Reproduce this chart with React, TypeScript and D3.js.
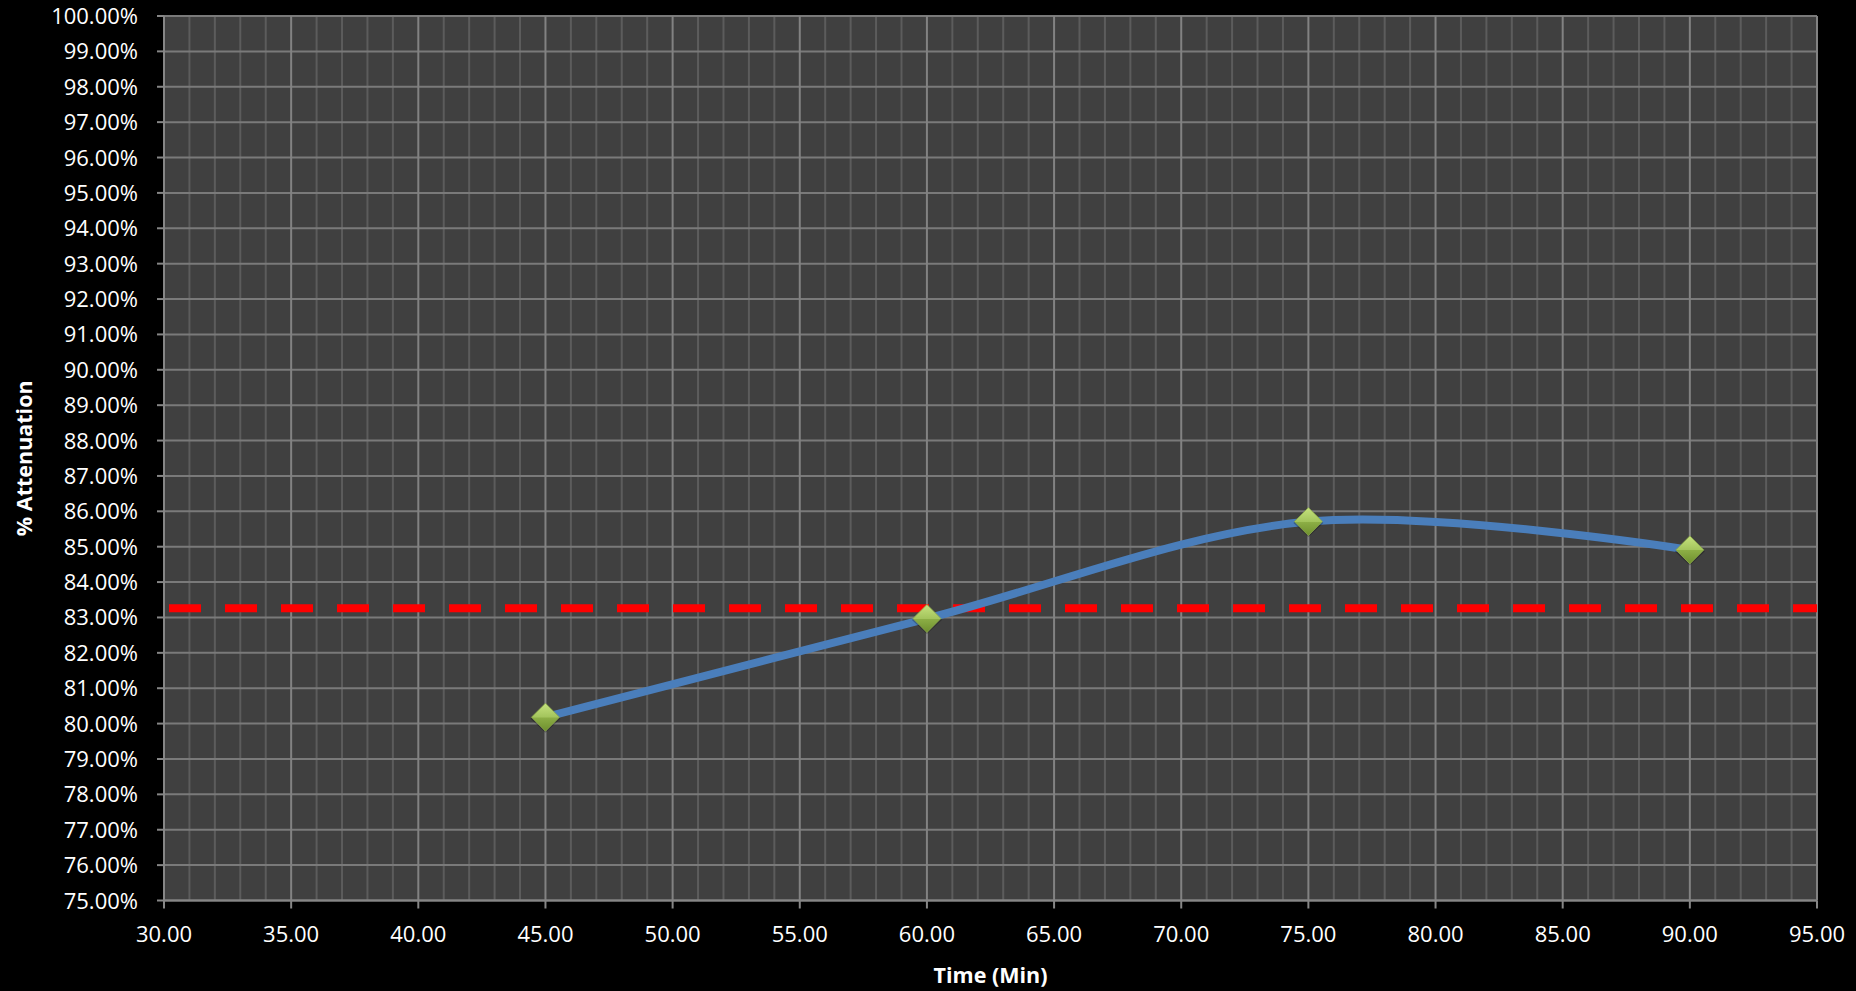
import React from "react";
import * as d3 from "d3";

const timeMin = [45, 60, 75, 90];
const attenuationPct = [80.18, 82.97, 85.71, 84.91];
const targetPct = 83.26;
const xTickValues = [30, 35, 40, 45, 50, 55, 60, 65, 70, 75, 80, 85, 90, 95];
const yTickValues = [75, 76, 77, 78, 79, 80, 81, 82, 83, 84, 85, 86, 87, 88, 89, 90, 91, 92, 93, 94, 95, 96, 97, 98, 99, 100];
const xTitle = "Time (Min)";
const yTitle = "% Attenuation";

const W = 1856;
const H = 991;
const L = 164, R = 1817, T = 16, B = 900.5;
const FONT = "'Open Sans', 'DejaVu Sans', sans-serif";

export default function App() {
  const x = d3.scaleLinear().domain([30, 95]).range([L, R]);
  const y = d3.scaleLinear().domain([75, 100]).range([B, T]);
  const minorX = d3.range(30, 96, 1);
  const pts: [number, number][] = timeMin.map((t, i) => [x(t), y(attenuationPct[i])]);
  const line = d3.line().curve(d3.curveCardinal.tension(0))(pts) || "";
  const ms = 14;
  return (
    <svg width={W} height={H} style={{ position: "absolute", left: 0, top: 0, display: "block" }} xmlns="http://www.w3.org/2000/svg">
      <defs>
        <clipPath id="plotclip">
          <rect x={L} y={T} width={R - L} height={B - T} />
        </clipPath>
        <linearGradient id="mk" x1="0" y1="0" x2="0" y2="1">
          <stop offset="0" stopColor="#c6e27e" />
          <stop offset="0.5" stopColor="#a3c45c" />
          <stop offset="0.52" stopColor="#8cae45" />
          <stop offset="1" stopColor="#6e8f2e" />
        </linearGradient>
      </defs>
      <rect x={0} y={0} width={W} height={H} fill="#000" />
      <rect x={L} y={T} width={R - L} height={B - T} fill="#404040" />
      {minorX.filter((v) => v % 5 !== 0).map((v) => (
        <line key={"mx" + v} x1={x(v)} x2={x(v)} y1={T} y2={B} stroke="#5c5c5c" strokeWidth={2} />
      ))}
      {yTickValues.map((v) => (
        <line key={"gy" + v} x1={L} x2={R} y1={y(v)} y2={y(v)} stroke="#7a7a7a" strokeWidth={2} />
      ))}
      {xTickValues.map((v) => (
        <line key={"gx" + v} x1={x(v)} x2={x(v)} y1={T} y2={B} stroke="#828282" strokeWidth={2} />
      ))}
      {/* axes */}
      <line x1={L} x2={L} y1={T} y2={B} stroke="#868686" strokeWidth={2} />
      <line x1={L} x2={R} y1={B} y2={B} stroke="#868686" strokeWidth={2} />
      {yTickValues.map((v) => (
        <line key={"ty" + v} x1={L - 7} x2={L} y1={y(v)} y2={y(v)} stroke="#868686" strokeWidth={2} />
      ))}
      {xTickValues.map((v) => (
        <line key={"tx" + v} x1={x(v)} x2={x(v)} y1={B} y2={B + 8} stroke="#868686" strokeWidth={2} />
      ))}
      {/* target dashed line */}
      <g clipPath="url(#plotclip)">
        <line x1={x(30)} x2={x(95)} y1={y(targetPct)} y2={y(targetPct)} stroke="#ff0000" strokeWidth={8} strokeDasharray="32 24" strokeDashoffset={51} />
      </g>
      {/* series */}
      <path d={line} fill="none" stroke="#4a7ebb" strokeWidth={8} strokeLinecap="round" strokeLinejoin="round" />
      {pts.map(([px, py], i) => (
        <g key={"m" + i}>
          <path d={`M${px},${py - ms + 1.5} L${px + ms + 1},${py + 1.5} L${px},${py + ms + 1.5} L${px - ms - 1},${py + 1.5} Z`} fill="rgba(0,0,0,0.25)" />
          <path d={`M${px},${py - ms} L${px + ms},${py} L${px},${py + ms} L${px - ms},${py} Z`} fill="url(#mk)" stroke="#8aa84a" strokeWidth={0.8} />
        </g>
      ))}
      {/* tick labels */}
      {yTickValues.map((v) => (
        <text key={"ly" + v} x={138} y={y(v) + 8} textAnchor="end" fill="#fff" fontFamily={FONT} fontSize={22}>
          {v.toFixed(2) + "%"}
        </text>
      ))}
      {xTickValues.map((v) => (
        <text key={"lx" + v} x={x(v)} y={941.5} textAnchor="middle" fill="#fff" fontFamily={FONT} fontSize={22}>
          {v.toFixed(2)}
        </text>
      ))}
      <text x={(L + R) / 2} y={983} textAnchor="middle" fill="#fff" fontFamily={FONT} fontSize={21.5} fontWeight="bold">
        {xTitle}
      </text>
      <text transform={`translate(32,${(T + B) / 2}) rotate(-90)`} textAnchor="middle" fill="#fff" fontFamily={FONT} fontSize={21.5} fontWeight="bold">
        {yTitle}
      </text>
    </svg>
  );
}
